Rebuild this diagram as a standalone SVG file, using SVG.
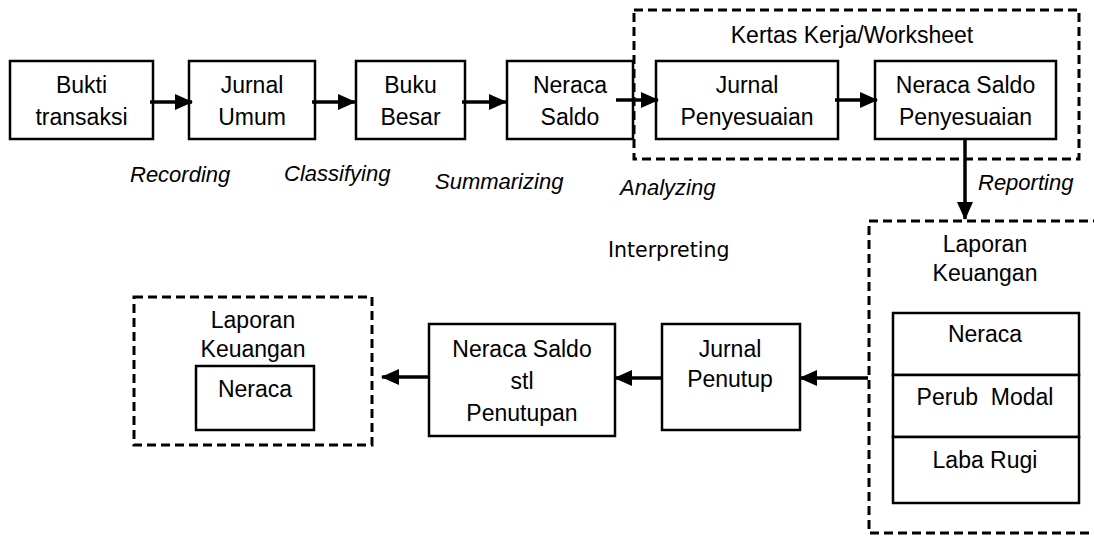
<svg xmlns="http://www.w3.org/2000/svg" width="1094" height="537" viewBox="0 0 1094 537">
<style>
.box{fill:#fff;stroke:#000;stroke-width:2.5}
.dash{fill:none;stroke:#000;stroke-width:3;stroke-dasharray:9 5}
.t{font-family:"Liberation Sans",Arial,sans-serif;font-size:23px;fill:#000;text-anchor:middle;white-space:pre}
.i{font-family:"Liberation Sans",Arial,sans-serif;font-size:22px;font-style:italic;fill:#000}
.n{font-family:"DejaVu Sans",sans-serif;font-size:20.5px;fill:#000}
.c line{stroke:#000;stroke-width:3.5}
</style>
<defs>
<marker id="ah" markerUnits="userSpaceOnUse" viewBox="0 0 18 16" refX="17" refY="8" markerWidth="18" markerHeight="16" orient="auto">
<path d="M0,0 L18,8 L0,16 Z" fill="#000"/>
</marker>
</defs>
<rect width="1094" height="537" fill="#fff"/>

<g id="worksheet">
<rect class="dash" x="634" y="10" width="445" height="149"/>
<text class="t" x="852" y="43">Kertas Kerja/Worksheet</text>
</g>

<g id="bukti"><rect class="box" x="10" y="61" width="143" height="78"/>
<text class="t" x="81.5" y="93">Bukti</text><text class="t" x="81.5" y="125">transaksi</text></g>
<g id="jurnal-umum"><rect class="box" x="189" y="61" width="126" height="78"/>
<text class="t" x="252" y="93">Jurnal</text><text class="t" x="252" y="125">Umum</text></g>
<g id="buku-besar"><rect class="box" x="356" y="61" width="109" height="78"/>
<text class="t" x="410.5" y="93">Buku</text><text class="t" x="410.5" y="125">Besar</text></g>
<g id="neraca-saldo"><rect class="box" x="507" y="61" width="126" height="78"/>
<text class="t" x="570" y="93">Neraca</text><text class="t" x="570" y="125">Saldo</text></g>
<g id="jurnal-penyesuaian"><rect class="box" x="656" y="61" width="182" height="78"/>
<text class="t" x="747" y="93">Jurnal</text><text class="t" x="747" y="125">Penyesuaian</text></g>
<g id="neraca-saldo-penyesuaian"><rect class="box" x="875" y="61" width="181" height="78"/>
<text class="t" x="965.5" y="93">Neraca Saldo</text><text class="t" x="965.5" y="125">Penyesuaian</text></g>

<g id="labels">
<text class="i" x="130" y="182">Recording</text>
<text class="i" x="284" y="181">Classifying</text>
<text class="i" x="435" y="189">Summarizing</text>
<text class="i" x="620" y="195">Analyzing</text>
<text class="i" x="978" y="190">Reporting</text>
<text class="n" x="608" y="257">Interpreting</text>
</g>

<g id="laporan-keuangan">
<rect class="dash" x="869" y="221" width="227" height="312"/>
<text class="t" x="985" y="252">Laporan</text>
<text class="t" x="985" y="281">Keuangan</text>
<rect class="box" x="893" y="313" width="186" height="62"/>
<text class="t" x="985" y="342">Neraca</text>
<rect class="box" x="893" y="375" width="186" height="62"/>
<text class="t" x="985" y="405" xml:space="preserve">Perub  Modal</text>
<rect class="box" x="893" y="437" width="186" height="66"/>
<text class="t" x="985" y="468">Laba Rugi</text>
</g>

<g id="jurnal-penutup"><rect class="box" x="662" y="324" width="138" height="106"/>
<text class="t" x="730" y="357">Jurnal</text><text class="t" x="730" y="387">Penutup</text></g>

<g id="neraca-saldo-stl"><rect class="box" x="429" y="324" width="186" height="112"/>
<text class="t" x="522" y="357">Neraca Saldo</text><text class="t" x="522" y="389">stl</text><text class="t" x="522" y="421">Penutupan</text></g>

<g id="laporan-keuangan-2">
<rect class="dash" x="134" y="297" width="238" height="148"/>
<text class="t" x="253" y="328">Laporan</text>
<text class="t" x="253" y="357">Keuangan</text>
<rect class="box" x="196" y="366" width="118" height="64"/>
<text class="t" x="255" y="397">Neraca</text>
</g>

<g id="connectors" class="c">
<line x1="150" y1="102" x2="192" y2="102" marker-end="url(#ah)"/>
<line x1="312" y1="102" x2="355" y2="102" marker-end="url(#ah)"/>
<line x1="462" y1="102" x2="506" y2="102" marker-end="url(#ah)"/>
<line x1="616" y1="100" x2="658" y2="100" marker-end="url(#ah)"/>
<line x1="835" y1="100" x2="877" y2="100" marker-end="url(#ah)"/>
<line x1="965" y1="139" x2="965" y2="219" marker-end="url(#ah)"/>
<line x1="868" y1="378" x2="800" y2="378" marker-end="url(#ah)"/>
<line x1="662" y1="378" x2="615" y2="378" marker-end="url(#ah)"/>
<line x1="429" y1="377" x2="382" y2="377" marker-end="url(#ah)"/>
</g>
</svg>
